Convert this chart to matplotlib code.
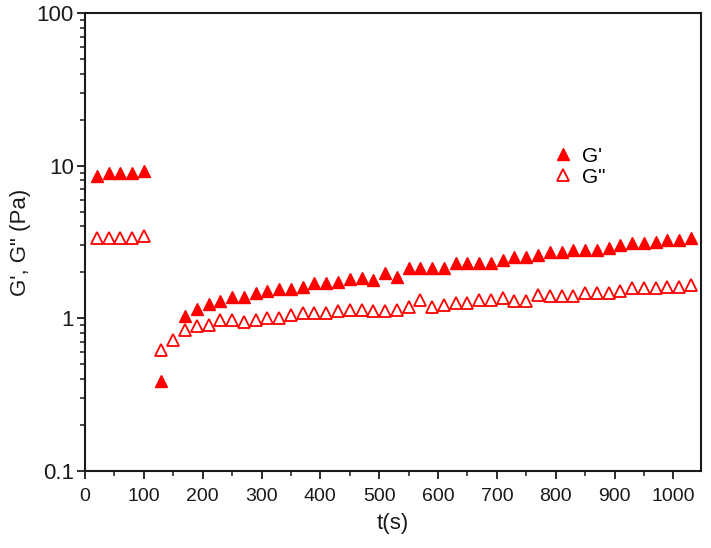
import matplotlib
matplotlib.use("Agg")
import matplotlib.pyplot as plt
from matplotlib.ticker import FixedLocator, LogLocator, NullFormatter, MultipleLocator

plt.rcParams['font.family'] = ['Liberation Sans', 'DejaVu Sans']

# G' (storage modulus) data
t_storage = [20, 40, 60, 80, 100, 130,
             170, 190, 210, 230, 250, 270, 290, 310, 330, 350,
             370, 390, 410, 430, 450, 470, 490, 510, 530, 550,
             570, 590, 610, 630, 650, 670, 690, 710, 730, 750,
             770, 790, 810, 830, 850, 870, 890, 910, 930, 950,
             970, 990, 1010, 1030]
g_storage = [8.6, 8.9, 8.9, 8.9, 9.2, 0.39,
             1.03, 1.15, 1.24, 1.30, 1.37, 1.37, 1.47, 1.51, 1.55, 1.55,
             1.61, 1.70, 1.70, 1.74, 1.80, 1.84, 1.78, 1.97, 1.87, 2.13,
             2.13, 2.13, 2.13, 2.30, 2.30, 2.30, 2.30, 2.41, 2.51, 2.54,
             2.60, 2.73, 2.73, 2.80, 2.80, 2.80, 2.88, 3.03, 3.10, 3.10,
             3.18, 3.26, 3.26, 3.34]

# G'' (loss modulus) data
t_loss = [20, 40, 60, 80, 100, 130, 150,
          170, 190, 210, 230, 250, 270, 290, 310, 330, 350,
          370, 390, 410, 430, 450, 470, 490, 510, 530, 550,
          570, 590, 610, 630, 650, 670, 690, 710, 730, 750,
          770, 790, 810, 830, 850, 870, 890, 910, 930, 950,
          970, 990, 1010, 1030]
g_loss = [3.35, 3.35, 3.35, 3.35, 3.45, 0.62, 0.72,
          0.84, 0.89, 0.905, 0.97, 0.97, 0.95, 0.97, 1.0, 1.0, 1.05,
          1.08, 1.08, 1.08, 1.11, 1.13, 1.14, 1.12, 1.11, 1.13, 1.19,
          1.32, 1.19, 1.22, 1.26, 1.26, 1.32, 1.32, 1.36, 1.29, 1.29,
          1.42, 1.39, 1.39, 1.39, 1.46, 1.46, 1.46, 1.50, 1.57, 1.57,
          1.57, 1.61, 1.61, 1.66]

x_ticks = [0, 100, 200, 300, 400, 500, 600, 700, 800, 900, 1000]
y_ticks = [0.1, 1, 10, 100]
y_ticklabels = ["0.1", "1", "10", "100"]

red = "#ff0000"
ink = "#1a1a1a"

fig = plt.figure(figsize=(7.11, 5.48), dpi=100)
ax = fig.add_axes([85 / 711, 1 - 471 / 548, (701 - 85) / 711, (471 - 13) / 548])

ax.plot(t_storage, g_storage, linestyle='none', marker='^', markersize=8,
        markerfacecolor=red, markeredgecolor=red, markeredgewidth=1.0, label="G'")
ax.plot(t_loss, g_loss, linestyle='none', marker='^', markersize=8,
        markerfacecolor='white', markeredgecolor=red, markeredgewidth=1.3, label='G"')

ax.set_yscale('log')
ax.set_xlim(0, 1047)
ax.set_ylim(0.1, 100)

ax.xaxis.set_major_locator(FixedLocator(x_ticks))
ax.xaxis.set_minor_locator(MultipleLocator(50))
ax.yaxis.set_major_locator(FixedLocator(y_ticks))
ax.set_yticklabels(y_ticklabels)
ax.yaxis.set_minor_locator(LogLocator(base=10, subs=range(2, 10)))
ax.yaxis.set_minor_formatter(NullFormatter())

ax.tick_params(axis='x', which='major', labelsize=14, pad=6)
ax.tick_params(axis='y', which='major', labelsize=16, pad=2)
ax.tick_params(axis='both', which='major', direction='out', length=6, width=1.3,
               colors=ink, top=False, right=False)
ax.tick_params(axis='both', which='minor', direction='out', length=3.5, width=1.1,
               colors=ink, top=False, right=False)
for s in ax.spines.values():
    s.set_linewidth(1.5)
    s.set_color(ink)

ax.set_xlabel("t(s)", fontsize=16, color=ink, labelpad=6)
ax.set_ylabel('G\', G" (Pa)', fontsize=16, color=ink)
ax.yaxis.set_label_coords(-0.088, 0.5)

ax.legend(loc='upper left', bbox_to_anchor=(0.735, 0.74), frameon=False,
          fontsize=15, handlelength=1.0, handletextpad=0.4, labelspacing=0.1,
          borderpad=0.2)

fig.savefig("out.png", dpi=100)
